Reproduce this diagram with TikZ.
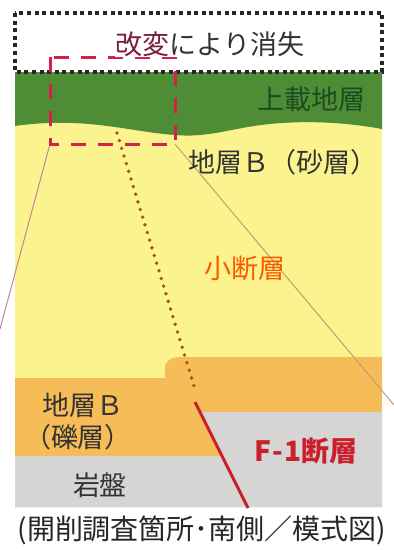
\documentclass[tikz,border=0pt]{standalone}
\usepackage{fontspec}
\setmainfont{Noto Sans CJK JP}
\usepackage{tikz}
\usetikzlibrary{positioning}
\definecolor{layergreen}{HTML}{4E8D36}
\definecolor{layeryellow}{HTML}{FBF48E}
\definecolor{layerorange}{HTML}{F6BC58}
\definecolor{rockgray}{HTML}{D5D6D3}
\definecolor{textgray}{HTML}{333333}
\definecolor{labelgreen}{HTML}{1E4A22}
\definecolor{faultred}{HTML}{CC1F2E}
\definecolor{trenchred}{HTML}{D3214C}
\definecolor{minorfault}{HTML}{A9521C}
\definecolor{removedred}{HTML}{7A1E3C}
\definecolor{leaderpink}{HTML}{C9809A}
\definecolor{leadertan}{HTML}{C49A74}

\begin{document}
\begin{tikzpicture}[x=1pt, y=-1pt]
    \useasboundingbox (0,0) rectangle (394,550);

    % sand layer as base
    \fill[layeryellow] (15,72) rectangle (382,507);

    % overburden
    \fill[layergreen] (15,72) -- (382,72) -- (382,129)
        .. controls (350,123) and (310,120) .. (270,124)
        .. controls (230,128) and (210,138) .. (175,135)
        .. controls (130,132) and (85,116) .. (15,126) -- cycle;

    % gravel layer
    \fill[layerorange] (15,378) -- (165,378) -- (165,368)
        .. controls (165,360) and (172,357) .. (182,357)
        -- (382,357) -- (382,507) -- (15,507) -- cycle;

    % bedrock
    \fill[rockgray] (15,456) -- (222,456) -- (200,412) -- (382,412)
        -- (382,507) -- (15,507) -- cycle;

    % removed part
    \draw[black!85, line width=4pt, dash pattern=on 4pt off 3.6pt] (15,13) rectangle (382,72);

    % trench
    \coordinate (tl) at (50,57);
    \coordinate (br) at (175,144);
    \coordinate (bl) at (50,144);
    \draw[leaderpink, line width=1pt] (bl) -- (0,329);
    \draw[leadertan, line width=1pt] (br) -- (394,405);
    \draw[trenchred, line width=3pt, dash pattern=on 15pt off 12pt] (tl) rectangle (br);

    % faults
    \coordinate (sftop) at (117,133);
    \coordinate (sfbot) at (194,386);
    \draw[minorfault, line width=3.8pt, line cap=round, dash pattern=on 0pt off 8pt] (sftop) -- (sfbot);
    \coordinate (f1top) at (195,402);
    \coordinate (f1bot) at (248,508);
    \draw[faultred, line width=3pt] (f1top) -- (f1bot);

    % labels
    \node[fill=white, inner sep=1pt, font=\fontsize{27}{27}\selectfont, text=textgray] (removed) at (210,44) {\textcolor{removedred}{改変}により消失};
    \node[font=\fontsize{27}{27}\selectfont, text=labelgreen] (overburden) at (311,99) {上載地層};
    \node[font=\fontsize{27}{27}\selectfont, text=textgray] (sand) at (283,162) {地層Ｂ（砂層）};
    \node[font=\fontsize{27}{27}\selectfont, text=orange!70!red] (minor) at (245,268) {小断層};
    \node[font=\fontsize{27}{27}\selectfont, text=textgray] (gravel) at (83,405) {地層Ｂ};
    \node[font=\fontsize{27}{27}\selectfont, text=textgray] (gravelsub) at (78,437) {（礫層）};
    \node[font=\fontsize{28}{28}\selectfont\bfseries, text=faultred] (fault) at (306,451) {F\kern1pt-\kern1pt1断層};
    \node[font=\fontsize{27}{27}\selectfont, text=textgray] (rock) at (100,485) {岩盤};

    % caption
    \node[font=\fontsize{28}{28}\selectfont, text=black!85] (caption) at (202,530) {(開削調査箇所･南側／模式図)};
\end{tikzpicture}
\end{document}
